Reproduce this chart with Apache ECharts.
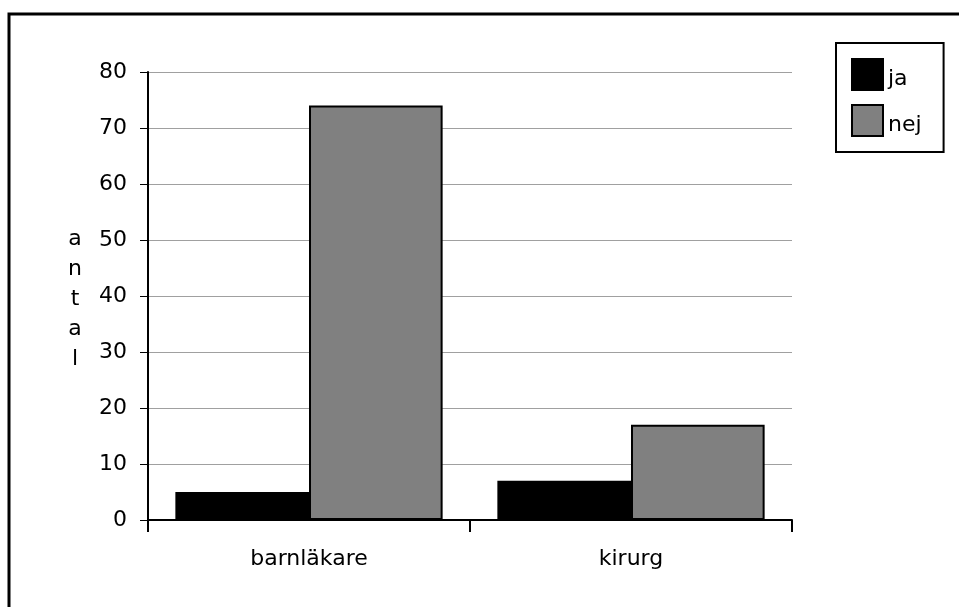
<!DOCTYPE html>
<html>
<head>
<meta charset="utf-8">
<script src="https://cdn.jsdelivr.net/npm/echarts@6/dist/echarts.min.js"></script>
<style>
  html, body { margin: 0; padding: 0; background: #fff; }
  #chart { width: 959px; height: 607px; }
</style>
</head>
<body>
<div id="chart"></div>
<script>
// Antal svar per yrkesgrupp
const categories = ['barnläkare', 'kirurg'];
const seriesNames = ['ja', 'nej'];
const jaValues = [5, 7];
const nejValues = [74, 17];
const yTicks = { min: 0, max: 80, interval: 10 };
const yTitle = 'antal';

const FONT = 'DejaVu Sans';
const chart = echarts.init(document.getElementById('chart'), null, { renderer: 'canvas' });

chart.setOption({
  backgroundColor: '#ffffff',
  animation: false,
  textStyle: { fontFamily: FONT, color: '#000' },
  grid: { left: 148, right: 167, top: 72, bottom: 87, containLabel: false },
  legend: {
    orient: 'vertical',
    left: 836,
    top: 43,
    padding: [15, 22, 15, 15],
    itemWidth: 31,
    itemHeight: 31,
    itemGap: 13,
    borderColor: '#000',
    borderWidth: 2,
    icon: 'rect',
    formatter: '{t|{name}}',
    textStyle: {
      fontFamily: FONT, fontSize: 22, color: '#000',
      rich: { t: { fontFamily: FONT, fontSize: 22, color: '#000', padding: [10, 0, 0, 0] } }
    },
    data: seriesNames
  },
  xAxis: {
    type: 'category',
    data: categories,
    axisLine: { lineStyle: { color: '#000', width: 2 } },
    axisTick: { show: true, length: 12, lineStyle: { color: '#000', width: 2 } },
    axisLabel: { fontFamily: FONT, fontSize: 22, color: '#000', margin: 28 }
  },
  yAxis: {
    type: 'value',
    min: yTicks.min,
    max: yTicks.max,
    interval: yTicks.interval,
    axisLine: { show: true, lineStyle: { color: '#000', width: 2 } },
    axisTick: { show: true, length: 8, lineStyle: { color: '#000', width: 1 } },
    axisLabel: { fontFamily: FONT, fontSize: 22, color: '#000', margin: 21 },
    splitLine: { show: true, lineStyle: { color: '#a0a0a0', width: 1 } }
  },
  series: [
    {
      name: seriesNames[0],
      type: 'bar',
      data: jaValues,
      barGap: '0%',
      barCategoryGap: '17%',
      itemStyle: { color: '#000000', borderColor: '#000', borderWidth: 2 }
    },
    {
      name: seriesNames[1],
      type: 'bar',
      data: nejValues,
      barGap: '0%',
      barCategoryGap: '17%',
      itemStyle: { color: '#808080', borderColor: '#000', borderWidth: 2 }
    }
  ],
  graphic: [
    {
      type: 'rect',
      shape: { x: 9, y: 14, width: 1000, height: 700 },
      style: { fill: 'none', stroke: '#000', lineWidth: 3 },
      silent: true
    },
    {
      type: 'text',
      x: 75,
      y: 299,
      style: {
        text: yTitle.split('').join('\n'),
        fontFamily: FONT,
        fontSize: 22,
        lineHeight: 30,
        fill: '#000',
        align: 'center',
        verticalAlign: 'middle'
      }
    }
  ]
});
</script>
</body>
</html>
